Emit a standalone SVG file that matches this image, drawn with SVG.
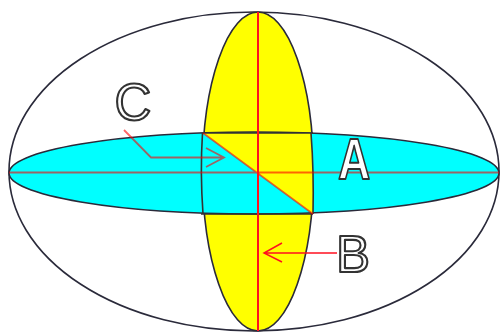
<svg xmlns="http://www.w3.org/2000/svg" width="500" height="332" viewBox="0 0 500 332">
<style>
.o{stroke:#2a2a3a;stroke-width:1.6}
.r{stroke:#ff0000;stroke-width:1.8;stroke-opacity:.6;fill:none}
.v{stroke:#ff1020;stroke-width:2;fill:none}
.k{stroke:#333;stroke-width:1.6;fill:none}
.t{font-family:"Liberation Sans",Arial,sans-serif;font-size:51px;fill:#fff;stroke:#333;stroke-width:2.100;stroke-linejoin:round}
</style>
<rect width="500" height="332" fill="#fff"/>
<g id="outer"><ellipse cx="254" cy="171.500" rx="245" ry="159.500" fill="#fff" class="o"/></g>
<g id="yellow-disc"><ellipse cx="258" cy="171.500" rx="55.500" ry="159.500" fill="#ffff00" class="o"/></g>
<g id="cyan-disc">
<ellipse cx="254" cy="173" rx="245" ry="41" fill="#00ffff" class="o"/>
<path d="M203 133H311Q314 170 313 214Z" fill="#ffff00"/>
<path d="M203 133H313M201 214H313M202.500 133Q200 172 203 214M311 133Q314 172 313 214" class="k"/>
</g>
<g id="connectors">
<path d="M9 172.500H499M203 133L313 214" class="r"/>
<path d="M258 12V331" class="v"/>
<path d="M124 130L151 157.500H224M206 148L224 157.500L206 167" class="r"/>
<path d="M337 253H264M282 243L264 253L282 262" class="v" style="stroke-width:1.5"/>
</g>
<g id="label-a"><text class="t" transform="translate(338 179) scale(.86 1.12)" style="font-size:52px;font-weight:bold;stroke-width:1.800">A</text></g>
<g id="label-b"><text class="t" x="336" y="272">B</text></g>
<g id="label-c"><text class="t" x="114.500" y="120">C</text></g>
</svg>
